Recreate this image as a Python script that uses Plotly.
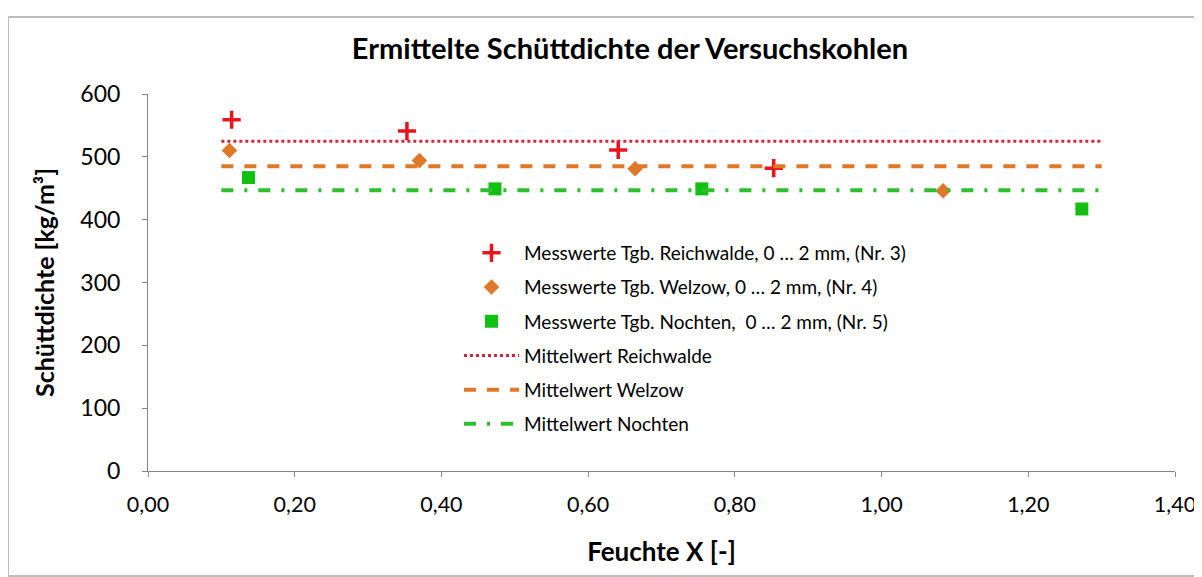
import plotly.graph_objects as go

# Measured data (Feuchte X [-], Schüttdichte [kg/m³])
reich_x = [0.114, 0.353, 0.641, 0.853]
reich_y = [559, 541, 511, 482]
welz_x = [0.111, 0.370, 0.664, 1.084]
welz_y = [510, 494, 481, 446]
noch_x = [0.137, 0.473, 0.755, 1.273]
noch_y = [467, 449, 449, 417]

# Mean lines
mean_x = [0.10, 1.30]
mean_reich = 525
mean_welz = 485
mean_noch = 447

x_ticks = [0.0, 0.2, 0.4, 0.6, 0.8, 1.0, 1.2, 1.4]
y_ticks = [0, 100, 200, 300, 400, 500, 600]

names = [
    "Messwerte Tgb. Reichwalde, 0 … 2 mm, (Nr. 3)",
    "Messwerte Tgb. Welzow, 0 … 2 mm, (Nr. 4)",
    "Messwerte Tgb. Nochten,  0 … 2 mm, (Nr. 5)",
    "Mittelwert Reichwalde",
    "Mittelwert Welzow",
    "Mittelwert Nochten",
]

RED = "#E8141E"
ORANGE = "#E0782A"
GREEN = "#2EBE2E"
FONT = "Lato"

# figure is placed 8px into the page (body margin), so sizes compensate for it
W, H = 1194, 569
L, R, T, B = 140, 27, 86, 106
PW, PH = W - L - R, H - T - B

fig = go.Figure()
fig.add_trace(go.Scatter(x=reich_x, y=reich_y, mode="markers", name=names[0], legendgroup="a",
                         marker=dict(symbol="cross-thin", size=13, color=RED,
                                     line=dict(width=3.5, color=RED))))
fig.add_trace(go.Scatter(x=welz_x, y=welz_y, mode="markers", name=names[1], legendgroup="b",
                         marker=dict(symbol="diamond", size=12, color=ORANGE)))
fig.add_trace(go.Scatter(x=noch_x, y=noch_y, mode="markers", name=names[2], legendgroup="c",
                         marker=dict(symbol="square", size=13, color="#12C012")))
fig.add_trace(go.Scatter(x=mean_x, y=[mean_reich] * 2, mode="lines", name=names[3], legendgroup="d",
                         line=dict(color="#D42638", width=3, dash="dot")))
fig.add_trace(go.Scatter(x=mean_x, y=[mean_welz] * 2, mode="lines", name=names[4], legendgroup="e",
                         line=dict(color=ORANGE, width=4, dash="12px,11px")))
fig.add_trace(go.Scatter(x=mean_x, y=[mean_noch] * 2, mode="lines", name=names[5], legendgroup="f",
                         line=dict(color=GREEN, width=4, dash="12px,11px,3px,11px")))

fig.update_layout(
    width=W, height=H,
    margin=dict(l=L, r=R, t=T, b=B),
    paper_bgcolor="white", plot_bgcolor="white",
    separators=",.",
    font=dict(family=FONT, size=22, color="#000000"),
    title=dict(text="<b>Ermittelte Schüttdichte der Versuchskohlen</b>",
               x=(630 - 8) / W, xanchor="center", y=1 - 41 / H, yanchor="middle",
               yref="container", font=dict(family=FONT, size=29)),
    xaxis=dict(range=[0, 1.4], tickvals=x_ticks, tickformat=".2f", automargin=False,
               showgrid=False, zeroline=False, showline=True, linecolor="#868686", linewidth=1,
               ticks="outside", ticklen=5, tickcolor="#868686", ticklabelstandoff=9,
               tickfont=dict(size=21.5),
               title=dict(text="<b>Feuchte X [-]</b>", font=dict(size=26), standoff=27)),
    yaxis=dict(range=[0, 600], tickvals=y_ticks, automargin=False,
               showgrid=False, zeroline=False, showline=True, linecolor="#868686", linewidth=1,
               ticks="outside", ticklen=5, tickcolor="#868686", ticklabelstandoff=17,
               tickfont=dict(size=23),
               title=dict(text="<b>Schüttdichte [kg/m³]</b>", font=dict(size=25), standoff=18)),
    legend=dict(x=311 / PW, y=(463 - 226) / PH, xanchor="left", yanchor="top",
                bgcolor="rgba(0,0,0,0)", font=dict(family=FONT, size=19),
                tracegroupgap=6.5, itemwidth=55),
    shapes=[dict(type="rect", xref="paper", yref="paper",
                 x0=(0 - L) / PW, x1=(W - 1 - L) / PW,
                 y0=(T + PH - (H - 1)) / PH, y1=(T + PH - 9) / PH,
                 line=dict(color="#BDBDBD", width=2), layer="below")],
)

fig.write_html("out.html")
